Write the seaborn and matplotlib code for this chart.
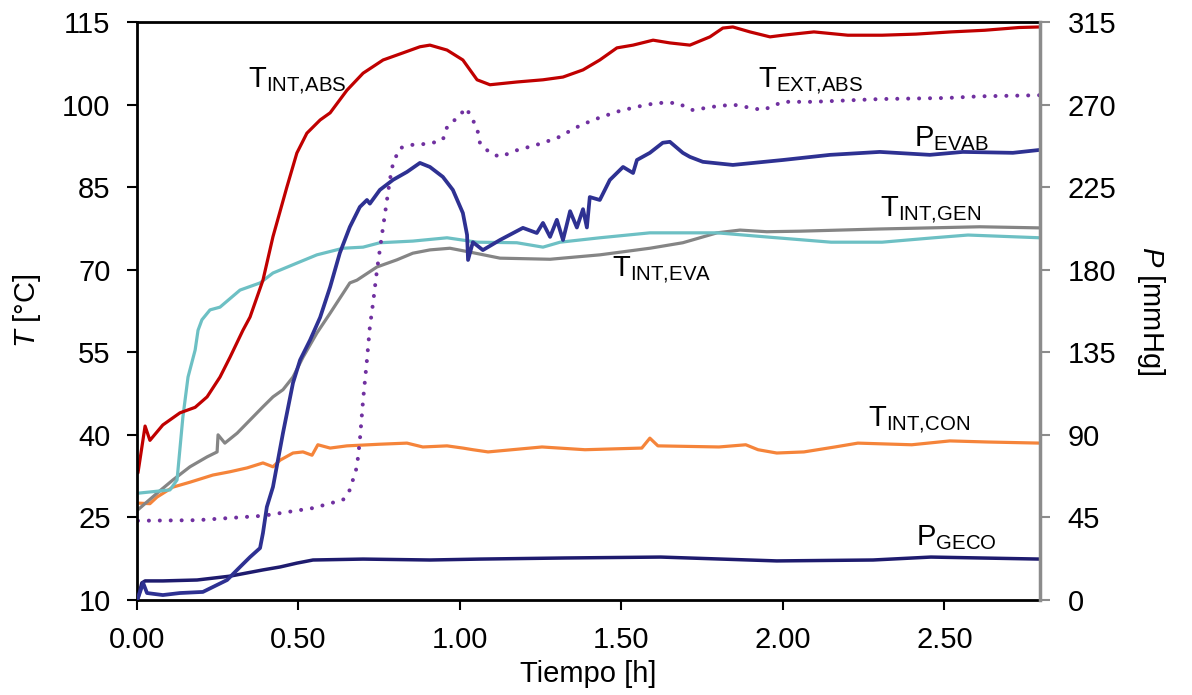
import numpy as np
import pandas as pd
import matplotlib
matplotlib.use("Agg")
import matplotlib.pyplot as plt
import seaborn as sns

# ---------------- data ----------------
t_int_abs_x = [0.003, 0.025, 0.04, 0.08, 0.133, 0.18, 0.217, 0.257, 0.288, 0.328, 0.35, 0.39, 0.421,
               0.464, 0.495, 0.526, 0.567, 0.598, 0.65, 0.70, 0.762, 0.824, 0.876, 0.907, 0.96, 1.009,
               1.053, 1.093, 1.176, 1.257, 1.319, 1.381, 1.433, 1.486, 1.536, 1.598, 1.65, 1.712, 1.774,
               1.814, 1.845, 1.898, 1.96, 2.0, 2.096, 2.201, 2.307, 2.412, 2.52, 2.625, 2.731, 2.796]
t_int_abs_y = [33.1, 41.6, 39.0, 41.8, 44.0, 45.0, 46.9, 50.5, 54.1, 59.0, 61.4, 68.1, 76.0,
               85.0, 91.2, 94.8, 97.2, 98.5, 102.6, 105.7, 108.1, 109.4, 110.5, 110.8, 109.9, 108.1,
               104.5, 103.6, 104.1, 104.5, 105.0, 106.3, 108.1, 110.3, 110.8, 111.7, 111.2, 110.8, 112.3,
               113.9, 114.1, 113.2, 112.3, 112.6, 113.2, 112.6, 112.6, 112.8, 113.2, 113.5, 114.0, 114.1]

t_teal_x = [0.003, 0.102, 0.124, 0.142, 0.158, 0.18, 0.189, 0.201, 0.226, 0.257, 0.319, 0.381, 0.421,
            0.495, 0.557, 0.638, 0.70, 0.752, 0.854, 0.96, 1.053, 1.176, 1.257, 1.31, 1.433, 1.588,
            1.796, 1.96, 2.149, 2.307, 2.467, 2.573, 2.796]
t_teal_y = [29.4, 30.0, 31.8, 43.2, 50.5, 55.4, 59.0, 60.9, 62.7, 63.2, 66.3, 67.6, 69.4,
            71.2, 72.7, 73.9, 74.1, 74.9, 75.2, 75.8, 75.0, 74.9, 74.1, 75.0, 75.8, 76.7,
            76.7, 75.9, 75.0, 75.0, 75.8, 76.3, 75.8]

t_grey_x = [0.003, 0.062, 0.111, 0.164, 0.217, 0.248, 0.251, 0.272, 0.31, 0.35, 0.39, 0.421, 0.452,
            0.483, 0.514, 0.557, 0.598, 0.619, 0.659, 0.681, 0.743, 0.805, 0.854, 0.907, 0.969, 1.031,
            1.124, 1.279, 1.433, 1.588, 1.69, 1.796, 1.867, 1.95, 2.053, 2.3, 2.61, 2.793]
t_grey_y = [26.4, 29.4, 31.8, 34.2, 36.0, 36.9, 40.0, 38.5, 40.3, 42.7, 45.1, 46.9, 48.2,
            50.5, 54.1, 58.5, 62.1, 64.0, 67.6, 68.1, 70.5, 71.8, 73.0, 73.6, 73.9, 73.2,
            72.1, 71.9, 72.7, 73.9, 74.9, 76.7, 77.2, 76.9, 77.0, 77.4, 77.8, 77.6]

t_con_x = [0.003, 0.04, 0.062, 0.111, 0.164, 0.235, 0.288, 0.341, 0.39, 0.421, 0.443, 0.483, 0.514,
           0.542, 0.56, 0.598, 0.65, 0.752, 0.836, 0.885, 0.96, 1.009, 1.04, 1.087, 1.254, 1.387,
           1.563, 1.588, 1.613, 1.802, 1.885, 1.923, 1.981, 2.065, 2.161, 2.232, 2.399, 2.517, 2.635, 2.796]
t_con_y = [27.6, 27.5, 28.7, 30.5, 31.4, 32.7, 33.3, 34.0, 34.9, 34.2, 35.4, 36.7, 36.9,
           36.3, 38.2, 37.6, 38.0, 38.3, 38.5, 37.8, 38.0, 37.6, 37.3, 36.9, 37.8, 37.3,
           37.6, 39.4, 38.0, 37.8, 38.2, 37.3, 36.7, 36.9, 37.8, 38.5, 38.2, 38.9, 38.7, 38.5]

t_ext_abs_x = [0.003, 0.186, 0.39, 0.545, 0.638, 0.659, 0.681, 0.69, 0.70, 0.712, 0.721, 0.731, 0.743,
               0.762, 0.783, 0.793, 0.814, 0.854, 0.907, 0.947, 0.96, 1.0, 1.019, 1.037, 1.053, 1.062,
               1.093, 1.124, 1.176, 1.238, 1.30, 1.362, 1.412, 1.486, 1.548, 1.61, 1.672, 1.721, 1.783,
               1.845, 1.938, 2.0, 2.093, 2.3, 2.508, 2.61, 2.796]
t_ext_abs_y = [24.4, 24.5, 25.3, 26.7, 28.2, 30.0, 34.2, 39.0, 46.3, 53.6, 59.6, 64.0, 69.9,
               77.8, 86.3, 89.4, 92.1, 92.7, 92.9, 93.6, 95.9, 98.1, 99.4, 97.5, 95.7, 93.0,
               91.2, 90.5, 91.7, 92.7, 93.9, 95.9, 97.2, 98.7, 99.6, 100.3, 100.3, 99.0, 99.6,
               100.0, 99.0, 100.5, 100.5, 101.0, 101.2, 101.5, 101.7]

p_evab_x = [0.003, 0.019, 0.031, 0.08, 0.133, 0.204, 0.279, 0.319, 0.35, 0.381, 0.39, 0.402, 0.421,
            0.452, 0.483, 0.505, 0.536, 0.567, 0.598, 0.628, 0.659, 0.69, 0.712, 0.721, 0.752, 0.793,
            0.836, 0.876, 0.907, 0.947, 0.978, 1.009, 1.022, 1.025, 1.04, 1.071, 1.124, 1.195, 1.238,
            1.257, 1.279, 1.30, 1.319, 1.341, 1.362, 1.381, 1.393, 1.402, 1.433, 1.464, 1.505, 1.536,
            1.548, 1.588, 1.628, 1.65, 1.69, 1.712, 1.752, 1.845, 2.0, 2.146, 2.3, 2.455, 2.557, 2.712, 2.796]
p_evab_y = [1.0, 9.3, 3.8, 2.7, 3.8, 4.4, 10.9, 18.0, 23.4, 28.3, 36.5, 50.7, 61.6,
            91.0, 118.3, 130.8, 141.7, 154.0, 170.6, 189.1, 203.3, 214.2, 218.0, 216.0, 223.5, 229.0,
            233.3, 238.2, 236.0, 230.6, 223.5, 210.9, 199.0, 185.3, 195.0, 190.7, 196.2, 202.8, 200.0,
            205.5, 197.9, 207.2, 196.2, 211.9, 203.0, 213.0, 203.0, 219.6, 218.0, 228.9, 236.0, 232.7,
            239.8, 243.7, 249.2, 249.7, 243.7, 241.5, 238.8, 237.1, 239.8, 242.6, 244.2, 242.6, 244.2, 243.7, 245.3]

p_geco_x = [0.003, 0.015, 0.025, 0.08, 0.186, 0.288, 0.39, 0.443, 0.495, 0.545, 0.70, 0.907, 1.062,
            1.325, 1.622, 1.981, 2.279, 2.458, 2.796]
p_geco_y = [1.1, 9.3, 10.4, 10.4, 10.9, 13.0, 16.4, 18.0, 20.1, 21.8, 22.3, 21.8, 22.3,
            22.9, 23.4, 21.3, 21.8, 23.4, 22.3]

x_ticks = [0.0, 0.5, 1.0, 1.5, 2.0, 2.5]
t_ticks = [10, 25, 40, 55, 70, 85, 100, 115]
p_ticks = [0, 45, 90, 135, 180, 225, 270, 315]

# ---------------- style ----------------
sns.set_theme(style="white")
plt.rcParams["font.family"] = ["Liberation Sans", "DejaVu Sans"]
plt.rcParams["mathtext.fontset"] = "custom"
plt.rcParams["mathtext.rm"] = "Liberation Sans"
plt.rcParams["mathtext.it"] = "Liberation Sans:italic"
plt.rcParams["mathtext.default"] = "regular"
for k in ["text.color", "axes.labelcolor", "xtick.labelcolor", "ytick.labelcolor"]:
    plt.rcParams[k] = "black"

C_RED = "#C00000"
C_TEAL = "#6DC0C4"
C_GREY = "#858585"
C_ORANGE = "#F5843A"
C_PURPLE = "#7030A0"
C_BLUE = "#2E3192"
C_NAVY = "#1E1B6E"

fig = plt.figure(figsize=(11.92, 6.95), dpi=100)
ax = fig.add_axes([137 / 1192, 1 - 600 / 695, (1040 - 137) / 1192, (600 - 22) / 695])
ax2 = ax.twinx()

def df(x, y):
    return pd.DataFrame({"x": x, "y": y})

lw = 2.3
sns.lineplot(data=df(t_con_x, t_con_y), x="x", y="y", ax=ax, color=C_ORANGE, lw=lw, sort=False)
sns.lineplot(data=df(t_grey_x, t_grey_y), x="x", y="y", ax=ax, color=C_GREY, lw=lw, sort=False)
sns.lineplot(data=df(t_teal_x, t_teal_y), x="x", y="y", ax=ax, color=C_TEAL, lw=lw, sort=False)
sns.lineplot(data=df(t_int_abs_x, t_int_abs_y), x="x", y="y", ax=ax, color=C_RED, lw=lw, sort=False)
sns.lineplot(data=df(t_ext_abs_x, t_ext_abs_y), x="x", y="y", ax=ax, color=C_PURPLE, lw=2.9,
             sort=False, linestyle=(0, (0.01, 2.7)), dash_capstyle="round")
sns.lineplot(data=df(p_geco_x, p_geco_y), x="x", y="y", ax=ax2, color=C_NAVY, lw=2.5, sort=False)
sns.lineplot(data=df(p_evab_x, p_evab_y), x="x", y="y", ax=ax2, color=C_BLUE, lw=2.7, sort=False)

ax.set_xlim(0, 2.796)
ax.set_ylim(10, 115)
ax2.set_ylim(0, 315)
ax.set_xticks(x_ticks)
ax.set_xticklabels([f"{v:.2f}" for v in x_ticks])
ax.set_yticks(t_ticks)
ax2.set_yticks(p_ticks)

fs = 21
ax.tick_params(axis="both", labelsize=fs, direction="out", length=7, width=1.5, color="black",
               labelcolor="black", left=True, bottom=True, pad=12)
ax2.tick_params(axis="y", labelsize=fs, direction="out", length=7, width=1.5, color="#8C8C8C",
                labelcolor="black", right=True, pad=13)

for s in ["left", "bottom", "top"]:
    ax.spines[s].set_color("black")
    ax.spines[s].set_linewidth(2)
    ax2.spines[s].set_visible(False)
ax.spines["right"].set_visible(False)
ax2.spines["right"].set_color("#8C8C8C")
ax2.spines["right"].set_linewidth(2.5)

ax.set_xlabel("Tiempo [h]", fontsize=fs, labelpad=4, color="black")
ax.set_ylabel(r"$\mathit{T}$ [°C]", fontsize=fs, labelpad=14, color="black")
ax2.set_ylabel(r"$\mathit{P}$ [mmHg]", fontsize=fs, rotation=270, labelpad=36, color="black")

# series labels
labels = [
    ("T$_{INT{,}ABS}$", 0.344, 103.0),
    ("T$_{EXT{,}ABS}$", 1.923, 103.0),
    ("P$_{EVAB}$", 2.406, 92.5),
    ("T$_{INT{,}GEN}$", 2.300, 79.6),
    ("T$_{INT{,}EVA}$", 1.471, 68.7),
    ("T$_{INT{,}CON}$", 2.262, 41.4),
    ("P$_{GECO}$", 2.413, 20.0),
]
for txt, x, y in labels:
    ax.text(x, y, txt, fontsize=21, ha="left", va="baseline", color="black")

fig.savefig("out.png", dpi=100)
